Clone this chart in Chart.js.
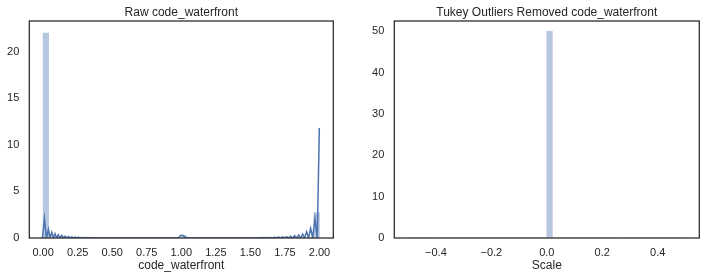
<!DOCTYPE html>
<html>
<head>
<meta charset="utf-8">
<script src="https://cdn.jsdelivr.net/npm/chart.js@4.4.1/dist/chart.umd.min.js"></script>
<style>
  body { margin: 0; background: #fff; }
  .panel { position: absolute; top: 0; }
</style>
</head>
<body>
<div class="panel" style="left:0"><canvas id="rawChart" width="345" height="279"></canvas></div>
<div class="panel" style="left:355px"><canvas id="tukeyChart" width="356" height="279"></canvas></div>
<script>
// histogram do painel esquerdo: 50 bins entre 0 e 2 (densidade)
const rawBinRange = [0, 2];
const rawHeights = [
  22.0, 0, 0, 0, 0, 0, 0, 0, 0, 0,
  0, 0, 0, 0, 0, 0, 0, 0, 0, 0,
  0, 0, 0, 0, 0, 0.27, 0, 0, 0, 0,
  0, 0, 0, 0, 0, 0, 0, 0, 0, 0,
  0, 0, 0, 0, 0, 0, 0, 0, 0, 2.72
];

// curva kde (oscila perto de 0 e de 2)
const rawKdeX = [
  -0.005, 0.009, 0.024, 0.038, 0.050, 0.062, 0.074, 0.086, 0.098, 0.110,
  0.122, 0.135, 0.147, 0.159, 0.171, 0.183, 0.195, 0.208, 0.220, 0.232,
  0.244, 0.256, 0.268, 0.280, 0.292, 0.305, 0.317, 0.330, 0.342, 0.360, 0.400,
  0.980, 0.990, 1.000, 1.010, 1.020, 1.030,
  1.520, 1.530, 1.545, 1.559, 1.574, 1.588, 1.603, 1.617, 1.632, 1.646,
  1.661, 1.675, 1.690, 1.704, 1.719, 1.733, 1.748, 1.762, 1.777, 1.791,
  1.806, 1.820, 1.835, 1.849, 1.864, 1.878, 1.892, 1.907, 1.921, 1.936,
  1.951, 1.967, 1.984, 1.999
];
const rawKdeY = [
  0, 2.1, 0, 0.93, 0, 0.61, 0, 0.46, 0, 0.36,
  0, 0.29, 0, 0.21, 0, 0.16, 0, 0.12, 0, 0.09,
  0, 0.07, 0, 0.05, 0, 0.04, 0, 0.03, 0, 0.02, 0,
  0, 0.2, 0.3, 0.3, 0.2, 0,
  0, 0.02, 0, 0.03, 0, 0.04, 0, 0.05, 0, 0.06,
  0, 0.08, 0, 0.1, 0, 0.12, 0, 0.15, 0, 0.19,
  0, 0.25, 0, 0.32, 0, 0.43, 0, 0.68, 0, 1.04,
  0, 2.1, 0, 11.8
];

// painel direito: todos os valores em 0, 50 bins entre -0.5 e 0.5
const tukeyBinRange = [-0.5, 0.5];
const tukeyHeights = [
  0, 0, 0, 0, 0, 0, 0, 0, 0, 0,
  0, 0, 0, 0, 0, 0, 0, 0, 0, 0,
  0, 0, 0, 0, 0, 50, 0, 0, 0, 0,
  0, 0, 0, 0, 0, 0, 0, 0, 0, 0,
  0, 0, 0, 0, 0, 0, 0, 0, 0, 0
];

Chart.defaults.font.family = '"Liberation Sans", Arial, sans-serif';
Chart.defaults.color = '#262626';

const frame = {
  id: 'frame',
  afterDatasetsDraw(chart) {
    const { ctx, chartArea: a } = chart;
    ctx.save();
    ctx.strokeStyle = '#262626';
    ctx.lineWidth = 1.25;
    ctx.strokeRect(a.left, a.top, a.right - a.left, a.bottom - a.top);
    ctx.restore();
  }
};

function histPoints(range, heights) {
  const w = (range[1] - range[0]) / heights.length;
  return heights.map((h, i) => ({ x: range[0] + (i + 0.5) * w, y: h }));
}

function makeChart(id, cfg) {
  const datasets = [];
  if (cfg.kde) {
    datasets.push({
      type: 'line',
      data: cfg.kde,
      borderColor: '#4c72b0',
      borderWidth: 1.5,
      pointRadius: 0,
      tension: 0,
      fill: false
    });
  }
  datasets.push({
    type: 'bar',
    data: cfg.hist,
    backgroundColor: 'rgba(76, 114, 176, 0.4)',
    borderWidth: 0,
    barPercentage: 1,
    categoryPercentage: 1,
    grouped: false
  });

  return new Chart(document.getElementById(id), {
    type: 'bar',
    data: { datasets: datasets },
    plugins: [frame],
    options: {
      responsive: false,
      animation: false,
      layout: { padding: { left: 0, right: 11.7, top: 0, bottom: 0 } },
      plugins: {
        legend: { display: false },
        tooltip: { enabled: false },
        title: {
          display: true,
          text: cfg.title,
          fullSize: false,
          color: '#262626',
          font: { size: 12, weight: 'normal' },
          padding: { top: 5.1, bottom: 1.5 }
        }
      },
      scales: {
        x: {
          type: 'linear',
          offset: false,
          min: cfg.xMin,
          max: cfg.xMax,
          grid: { display: false, drawTicks: false },
          border: { display: false },
          ticks: {
            stepSize: cfg.xStep,
            includeBounds: false,
            autoSkip: false,
            maxRotation: 0,
            padding: 8,
            font: { size: 11 },
            callback: cfg.xFormat
          },
          title: {
            display: true,
            text: cfg.xLabel,
            font: { size: 12 },
            padding: { top: 0, bottom: 5.8 }
          },
          afterFit(scale) { scale.height = 41; }
        },
        y: {
          min: 0,
          max: cfg.yMax,
          grid: { display: false, drawTicks: false },
          border: { display: false },
          ticks: {
            stepSize: cfg.yStep,
            includeBounds: false,
            padding: 10,
            font: { size: 11 }
          },
          afterFit(scale) { scale.width = cfg.yWidth; }
        }
      }
    }
  });
}

makeChart('rawChart', {
  title: 'Raw code_waterfront',
  xLabel: 'code_waterfront',
  hist: histPoints(rawBinRange, rawHeights),
  kde: rawKdeX.map((x, i) => ({ x: x, y: rawKdeY[i] })),
  xMin: -0.1, xMax: 2.1, xStep: 0.25,
  xFormat: v => v.toFixed(2),
  yMax: 23.3, yStep: 5,
  yWidth: 29.3
});

makeChart('tukeyChart', {
  title: 'Tukey Outliers Removed code_waterfront',
  xLabel: 'Scale',
  hist: histPoints(tukeyBinRange, tukeyHeights),
  xMin: -0.55, xMax: 0.55, xStep: 0.2,
  xFormat: v => (v < -1e-9 ? '\u2212' : '') + Math.abs(v).toFixed(1),
  yMax: 52.5, yStep: 10,
  yWidth: 39.3
});
</script>
</body>
</html>
